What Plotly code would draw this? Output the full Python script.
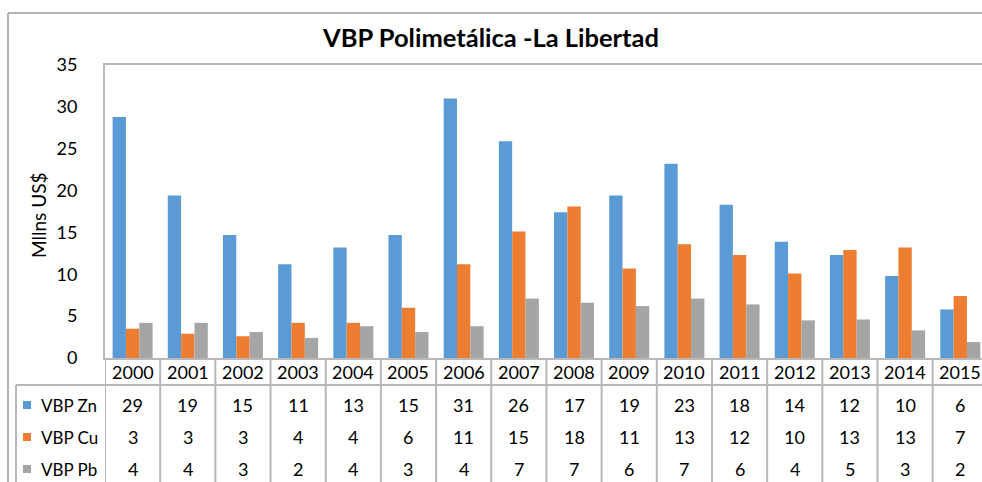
import plotly.graph_objects as go

years = ["2000", "2001", "2002", "2003", "2004", "2005", "2006", "2007",
         "2008", "2009", "2010", "2011", "2012", "2013", "2014", "2015"]
zn = [28.8, 19.4, 14.7, 11.2, 13.2, 14.7, 31.0, 25.9, 17.4, 19.4, 23.2, 18.3, 13.9, 12.3, 9.8, 5.8]
cu = [3.5, 2.9, 2.6, 4.2, 4.2, 6.0, 11.2, 15.1, 18.1, 10.7, 13.6, 12.3, 10.1, 12.9, 13.2, 7.4]
pb = [4.2, 4.2, 3.1, 2.4, 3.8, 3.1, 3.8, 7.1, 6.6, 6.2, 7.1, 6.4, 4.5, 4.6, 3.3, 1.9]
zn_tab = [29, 19, 15, 11, 13, 15, 31, 26, 17, 19, 23, 18, 14, 12, 10, 6]
cu_tab = [3, 3, 3, 4, 4, 6, 11, 15, 18, 11, 13, 12, 10, 13, 13, 7]
pb_tab = [4, 4, 3, 2, 4, 3, 4, 7, 7, 6, 7, 6, 4, 5, 3, 2]
series_names = ["VBP Zn", "VBP Cu", "VBP Pb"]
colors = ["#5B9BD5", "#ED7D31", "#A5A5A5"]

W, H = 982, 482
FONT = "Lato"
TXT = "#000000"
LINE = "#B8B8B8"

def py(pix):
    return (H - pix) / H

def px(pix):
    return pix / W

fig = go.Figure()
for name, vals, col in zip(series_names, [zn, cu, pb], colors):
    fig.add_trace(go.Bar(x=years, y=vals, name=name, marker=dict(color=col, line=dict(width=0)),
                         showlegend=False))

x0_pix, cat_w = 105, 55.18
x_end = -0.5 + (W - x0_pix) / cat_w

fig.update_layout(
    width=W, height=H, margin=dict(l=0, r=0, t=0, b=0, autoexpand=False),
    paper_bgcolor="white", plot_bgcolor="white",
    barmode="group", bargap=0.275, bargroupgap=0,
    font=dict(family=FONT, color=TXT, size=18),
    title=dict(text="<b>VBP Polimetálica -La Libertad</b>", x=0.5, xanchor="center",
               y=py(38), yanchor="middle", font=dict(size=25.5, family=FONT, color=TXT)),
    xaxis=dict(type="category", domain=[px(x0_pix), 1], range=[-0.5, x_end], showticklabels=False,
               showline=True, linecolor=LINE, linewidth=2, mirror=True, ticks="",
               showgrid=False, zeroline=False, automargin=False),
    yaxis=dict(domain=[py(358), py(65)], range=[0, 35], dtick=5, showgrid=False,
               showline=True, linecolor=LINE, linewidth=2, ticks="", zeroline=False,
               tickfont=dict(size=18), ticklabelstandoff=22, automargin=False),
)

# y-axis title
fig.add_annotation(text="Mllns US$", x=px(39), y=py(216), xref="paper", yref="paper",
                   xanchor="center", yanchor="middle",
                   textangle=-90, showarrow=False, font=dict(size=19))

shapes = []
# outer chart border
shapes.append(dict(type="line", xref="paper", yref="paper", x0=px(8), x1=1, y0=py(13), y1=py(13),
                   line=dict(color="#9A9A9A", width=1.5)))
shapes.append(dict(type="line", xref="paper", yref="paper", x0=px(8), x1=px(8), y0=py(13), y1=0,
                   line=dict(color="#9A9A9A", width=1.5)))
# table lines
shapes.append(dict(type="line", xref="paper", yref="paper", x0=px(16), x1=1, y0=py(385), y1=py(385),
                   line=dict(color=LINE, width=2)))
shapes.append(dict(type="line", xref="paper", yref="paper", x0=px(16), x1=px(16), y0=py(385), y1=0,
                   line=dict(color=LINE, width=2)))
for i in range(len(years) + 1):
    shapes.append(dict(type="line", xref="x", yref="paper", x0=i - 0.5, x1=i - 0.5,
                       y0=py(358), y1=0, line=dict(color=LINE, width=2)))

row_y = [405, 437, 469]
for r, (name, col) in enumerate(zip(series_names, colors)):
    shapes.append(dict(type="rect", xref="paper", yref="paper", x0=px(23), x1=px(31),
                       y0=py(row_y[r] - 4), y1=py(row_y[r] + 4), fillcolor=col, line=dict(width=0)))
    fig.add_annotation(text=name, x=px(39), y=py(row_y[r]), xref="paper", yref="paper",
                       xanchor="left", yanchor="middle", showarrow=False, font=dict(size=17))

for i, yr in enumerate(years):
    fig.add_annotation(text=yr, x=i, y=py(372), xref="x", yref="paper", showarrow=False,
                       xanchor="center", yanchor="middle", font=dict(size=18))
    for r, tab in enumerate([zn_tab, cu_tab, pb_tab]):
        fig.add_annotation(text=str(tab[i]), x=i, y=py(row_y[r]), xref="x", yref="paper",
                           showarrow=False, xanchor="center", yanchor="middle", font=dict(size=18))

fig.update_layout(shapes=shapes)
fig.write_html("out.html", config={"displayModeBar": False},
               post_script="document.body.style.margin='0';document.body.style.overflow='hidden';")
